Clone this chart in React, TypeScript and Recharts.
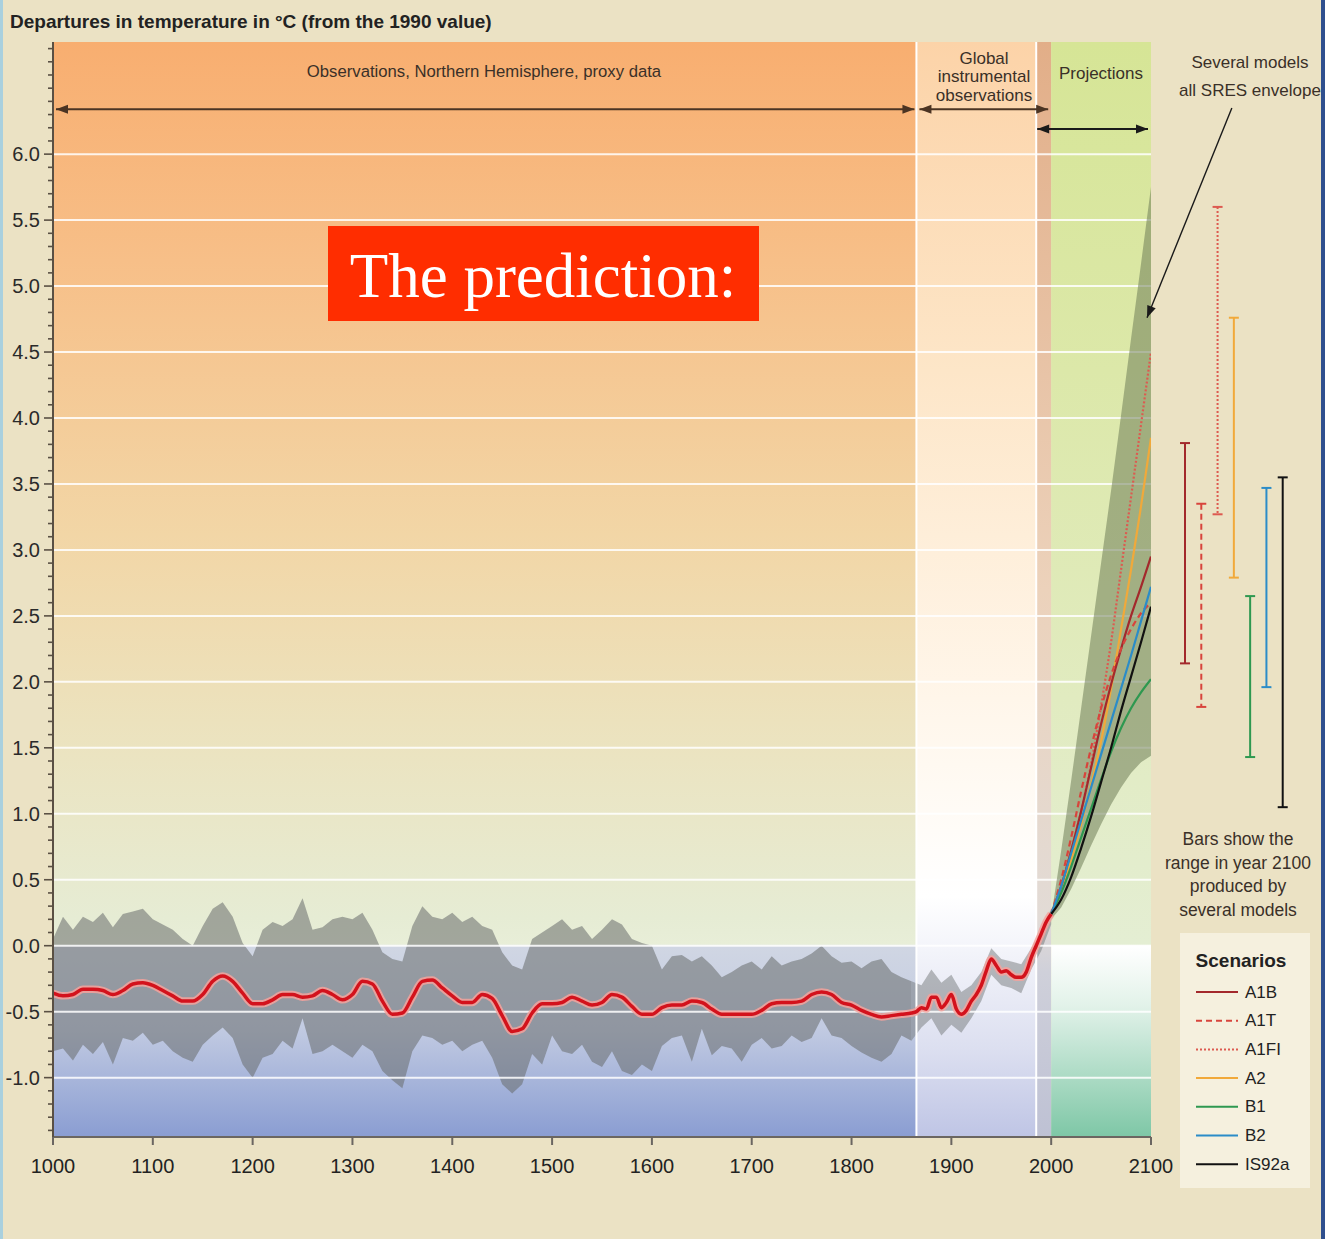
import React from 'react';
import {
  Area, Bar, BarChart, ComposedChart, Line,
  ReferenceArea, ReferenceLine, XAxis, YAxis,
} from 'recharts';

const FONT = '"Liberation Sans", Arial, Helvetica, sans-serif';

// proxy reconstruction (N. Hemisphere), 10-year steps
const proxyYears = [
  1000, 1010, 1020, 1030, 1040, 1050, 1060, 1070, 1080, 1090,
  1100, 1110, 1120, 1130, 1140, 1150, 1160, 1170, 1180, 1190,
  1200, 1210, 1220, 1230, 1240, 1250, 1260, 1270, 1280, 1290,
  1300, 1310, 1320, 1330, 1340, 1350, 1360, 1370, 1380, 1390,
  1400, 1410, 1420, 1430, 1440, 1450, 1460, 1470, 1480, 1490,
  1500, 1510, 1520, 1530, 1540, 1550, 1560, 1570, 1580, 1590,
  1600, 1610, 1620, 1630, 1640, 1650, 1660, 1670, 1680, 1690,
  1700, 1710, 1720, 1730, 1740, 1750, 1760, 1770, 1780, 1790,
  1800, 1810, 1820, 1830, 1840, 1850, 1860,
];
const proxyMean = [
  -0.36, -0.38, -0.37, -0.33, -0.33, -0.34, -0.37, -0.34, -0.29, -0.28,
  -0.30, -0.34, -0.38, -0.42, -0.42, -0.37, -0.27, -0.23, -0.27, -0.36,
  -0.44, -0.44, -0.41, -0.37, -0.37, -0.39, -0.38, -0.34, -0.37, -0.41,
  -0.37, -0.27, -0.29, -0.42, -0.52, -0.51, -0.39, -0.27, -0.26, -0.32,
  -0.38, -0.43, -0.43, -0.37, -0.40, -0.53, -0.65, -0.63, -0.51, -0.44,
  -0.44, -0.43, -0.39, -0.42, -0.45, -0.43, -0.37, -0.39, -0.46, -0.52,
  -0.52, -0.47, -0.45, -0.45, -0.42, -0.43, -0.48, -0.52, -0.52, -0.52,
  -0.52, -0.49, -0.44, -0.43, -0.43, -0.42, -0.37, -0.35, -0.37, -0.43,
  -0.45, -0.49, -0.52, -0.54, -0.53, -0.52, -0.51,
];
const proxyHigh = [
  0.05, 0.22, 0.12, 0.22, 0.18, 0.25, 0.14, 0.24, 0.26, 0.28,
  0.20, 0.16, 0.12, 0.05, 0.00, 0.15, 0.28, 0.33, 0.22, 0.02,
  -0.08, 0.12, 0.18, 0.15, 0.20, 0.36, 0.12, 0.14, 0.20, 0.22,
  0.20, 0.25, 0.12, -0.05, -0.10, -0.12, 0.15, 0.30, 0.22, 0.20,
  0.25, 0.18, 0.22, 0.15, 0.12, -0.05, -0.15, -0.18, 0.05, 0.10,
  0.15, 0.20, 0.12, 0.15, 0.05, 0.12, 0.20, 0.16, 0.05, 0.02,
  0.00, -0.18, -0.08, -0.07, -0.12, -0.08, -0.15, -0.24, -0.20, -0.15,
  -0.12, -0.18, -0.08, -0.15, -0.12, -0.10, -0.06, 0.00, -0.08, -0.13,
  -0.12, -0.17, -0.12, -0.10, -0.20, -0.24, -0.27,
];
const proxyLow = [
  -0.80, -0.78, -0.87, -0.75, -0.82, -0.73, -0.90, -0.70, -0.72, -0.66,
  -0.75, -0.72, -0.80, -0.85, -0.88, -0.75, -0.68, -0.62, -0.70, -0.90,
  -1.00, -0.85, -0.82, -0.72, -0.78, -0.55, -0.82, -0.80, -0.75, -0.80,
  -0.85, -0.75, -0.80, -0.95, -1.02, -1.08, -0.80, -0.68, -0.70, -0.75,
  -0.72, -0.80, -0.75, -0.72, -0.85, -1.05, -1.12, -1.05, -0.82, -0.90,
  -0.68, -0.80, -0.82, -0.75, -0.88, -0.92, -0.80, -0.95, -0.98, -0.90,
  -0.95, -0.76, -0.70, -0.68, -0.88, -0.63, -0.83, -0.76, -0.78, -0.88,
  -0.75, -0.70, -0.78, -0.76, -0.68, -0.73, -0.70, -0.55, -0.68, -0.70,
  -0.76, -0.81, -0.85, -0.88, -0.82, -0.68, -0.72,
];

// global instrumental record
const instYears = [
  1865, 1870, 1875, 1880, 1885, 1890, 1895, 1900, 1905, 1910, 1915, 1920, 1925, 1930,
  1935, 1940, 1945, 1950, 1955, 1960, 1965, 1970, 1975, 1980, 1985, 1990, 1995, 2000,
];
const instMean = [
  -0.50, -0.47, -0.48, -0.39, -0.39, -0.47, -0.43, -0.37, -0.48, -0.52, -0.49, -0.42, -0.37, -0.30,
  -0.19, -0.10, -0.15, -0.20, -0.19, -0.22, -0.24, -0.24, -0.20, -0.09, 0.00, 0.09, 0.18, 0.24,
];
const instBandYears = [1860, 1870, 1880, 1890, 1900, 1910, 1920, 1930, 1940, 1950, 1960, 1970, 1980, 1990, 2000];
const instHigh = [-0.27, -0.30, -0.18, -0.28, -0.22, -0.35, -0.30, -0.20, -0.02, -0.10, -0.12, -0.14, -0.02, 0.12, 0.28];
const instLow = [-0.72, -0.62, -0.55, -0.68, -0.60, -0.66, -0.55, -0.42, -0.22, -0.30, -0.32, -0.36, -0.18, -0.04, 0.16];

// projections
const projYears = [2000, 2010, 2020, 2030, 2040, 2050, 2060, 2070, 2080, 2090, 2100];
const envelopeHigh = [0.22, 0.72, 1.25, 1.80, 2.35, 2.90, 3.45, 4.02, 4.60, 5.17, 5.75];
const envelopeLow = [0.20, 0.29, 0.43, 0.59, 0.76, 0.92, 1.07, 1.20, 1.31, 1.39, 1.44];
const a1fi = [0.24, 0.45, 0.72, 1.02, 1.38, 1.82, 2.30, 2.85, 3.40, 3.95, 4.50];
const a2 = [0.24, 0.42, 0.65, 0.92, 1.22, 1.55, 1.95, 2.40, 2.85, 3.33, 3.85];
const a1b = [0.24, 0.45, 0.72, 1.02, 1.35, 1.68, 1.98, 2.25, 2.50, 2.72, 2.95];
const a1t = [0.24, 0.50, 0.82, 1.17, 1.50, 1.80, 2.05, 2.25, 2.40, 2.52, 2.60];
const b1 = [0.24, 0.40, 0.60, 0.82, 1.04, 1.26, 1.47, 1.65, 1.80, 1.92, 2.02];
const b2 = [0.24, 0.45, 0.70, 0.95, 1.20, 1.45, 1.70, 1.95, 2.20, 2.46, 2.72];
const is92a = [0.24, 0.35, 0.52, 0.74, 0.98, 1.24, 1.50, 1.78, 2.04, 2.30, 2.57];

// ranges in 2100 produced by several models
const scenarioNames = ['A1B', 'A1T', 'A1FI', 'A2', 'B1', 'B2', 'IS92a'];
const range2100Low = [2.14, 1.81, 3.27, 2.79, 1.43, 1.96, 1.05];
const range2100High = [3.81, 3.35, 5.60, 4.76, 2.65, 3.47, 3.55];

const xTicks = [1000, 1100, 1200, 1300, 1400, 1500, 1600, 1700, 1800, 1900, 2000, 2100];
const yLabels = [-1.0, -0.5, 0.0, 0.5, 1.0, 1.5, 2.0, 2.5, 3.0, 3.5, 4.0, 4.5, 5.0, 5.5, 6.0];
const yMinorTicks = Array.from({ length: 83 }, (_, i) => Math.round((-1.4 + i * 0.1) * 10) / 10);

const Y_DOMAIN: [number, number] = [-1.45, 6.85];

const scenarioStyle: Record<string, { color: string; dash?: string }> = {
  A1B: { color: '#a3292c' },
  A1T: { color: '#d8443c', dash: '6 4' },
  A1FI: { color: '#dd5a50', dash: '2 2' },
  A2: { color: '#f1a93a' },
  B1: { color: '#2e9850' },
  B2: { color: '#2b8cc8' },
  IS92a: { color: '#111111' },
};

const scenarioSeries: Record<string, number[]> = {
  A1FI: a1fi, A2: a2, A1B: a1b, A1T: a1t, B1: b1, B2: b2, IS92a: is92a,
};

const proxyBand = proxyYears.map((year, i) => ({ year, range: [proxyLow[i], proxyHigh[i]] }));
const instBand = instBandYears.map((year, i) => ({ year, range: [instLow[i], instHigh[i]] }));
const meanLine = [
  ...proxyYears.map((year, i) => ({ year, t: proxyMean[i] })),
  ...instYears.map((year, i) => ({ year, t: instMean[i] })),
];
const envelope = projYears.map((year, i) => ({ year, range: [envelopeLow[i], envelopeHigh[i]] }));
const rangeData = scenarioNames.map((name, i) => ({ name, range: [range2100Low[i], range2100High[i]] }));

function YTick(props: any) {
  const { x, y, payload } = props;
  const v = payload.value;
  const labelled = yLabels.some((l) => Math.abs(l - v) < 1e-6);
  return (
    <g>
      <line x1={x - (labelled ? 9 : 5)} x2={x} y1={y} y2={y} stroke="#5a5044" strokeWidth={1.6} />
      {labelled && (
        <text x={x - 13} y={y} textAnchor="end" dominantBaseline="central"
          fontSize={20} fontFamily={FONT} fill="#2a2a2a">
          {v.toFixed(1)}
        </text>
      )}
    </g>
  );
}

function arrowShape(color: string, both: boolean, width = 2) {
  return (p: any) => {
    const { x1, y1, x2, y2 } = p;
    const a = Math.atan2(y2 - y1, x2 - x1);
    const head = (x: number, y: number, ang: number) => {
      const bx = x - 12 * Math.cos(ang);
      const by = y - 12 * Math.sin(ang);
      const px = -Math.sin(ang) * 4.5;
      const py = Math.cos(ang) * 4.5;
      return <polygon points={`${x},${y} ${bx + px},${by + py} ${bx - px},${by - py}`} fill={color} />;
    };
    return (
      <g>
        <line x1={x1} y1={y1} x2={x2} y2={y2} stroke={color} strokeWidth={width} />
        {both && head(x1, y1, a + Math.PI)}
        {head(x2, y2, a)}
      </g>
    );
  };
}

function Whisker(props: any) {
  const { x, y, width, height, payload } = props;
  const s = scenarioStyle[payload.name];
  const cx = x + width / 2;
  const top = Math.min(y, y + height);
  const bottom = Math.max(y, y + height);
  return (
    <g stroke={s.color} strokeWidth={2}>
      <line x1={cx} x2={cx} y1={top} y2={bottom} strokeDasharray={s.dash} />
      <line x1={cx - 5} x2={cx + 5} y1={top} y2={top} />
      <line x1={cx - 5} x2={cx + 5} y1={bottom} y2={bottom} />
    </g>
  );
}

export default function App() {
  const text = { fontFamily: FONT, fill: '#3a3028' };
  return (
    <div style={{ position: 'absolute', left: 0, top: 0, width: 1325, height: 1239, background: '#ebe2c4', overflow: 'hidden' }}>
      <ComposedChart width={1325} height={1239} margin={{ top: 42, right: 174, bottom: 72, left: 8 }}>
        <defs>
          <linearGradient id="gProxy" x1="0" y1="0" x2="0" y2="1">
            <stop offset="0" stopColor="#f8ae70" />
            <stop offset="0.2" stopColor="#f7bf88" />
            <stop offset="0.45" stopColor="#f2d6a6" />
            <stop offset="0.62" stopColor="#ece2bd" />
            <stop offset="0.8" stopColor="#e6ecd4" />
            <stop offset="0.824" stopColor="#e8eed8" />
            <stop offset="0.826" stopColor="#d0d6e3" />
            <stop offset="0.9" stopColor="#c2cbe2" />
            <stop offset="1" stopColor="#8a9dd2" />
          </linearGradient>
          <linearGradient id="gInst" x1="0" y1="0" x2="0" y2="1">
            <stop offset="0" stopColor="#fcd3a8" />
            <stop offset="0.3" stopColor="#fde6c8" />
            <stop offset="0.6" stopColor="#fff6ea" />
            <stop offset="0.78" stopColor="#ffffff" />
            <stop offset="0.83" stopColor="#f3f4fa" />
            <stop offset="0.92" stopColor="#dcdff0" />
            <stop offset="1" stopColor="#bfc5e5" />
          </linearGradient>
          <linearGradient id="gGap" x1="0" y1="0" x2="0" y2="1">
            <stop offset="0" stopColor="#e2ae88" />
            <stop offset="0.5" stopColor="#ecd2bb" />
            <stop offset="0.8" stopColor="#e2dbd6" />
            <stop offset="0.85" stopColor="#cfd0da" />
            <stop offset="1" stopColor="#bec1d4" />
          </linearGradient>
          <linearGradient id="gProj" x1="0" y1="0" x2="0" y2="1">
            <stop offset="0" stopColor="#d6e596" />
            <stop offset="0.3" stopColor="#dce8a9" />
            <stop offset="0.6" stopColor="#e1ebc0" />
            <stop offset="0.824" stopColor="#e4eed3" />
            <stop offset="0.826" stopColor="#ffffff" />
            <stop offset="0.88" stopColor="#e2f2e9" />
            <stop offset="1" stopColor="#7ec7a6" />
          </linearGradient>
        </defs>

        <XAxis
          type="number"
          dataKey="year"
          domain={[1000, 2100]}
          allowDataOverflow
          ticks={xTicks}
          interval={0}
          height={30}
          tickSize={8}
          tickMargin={14}
          axisLine={{ stroke: '#6b6661', strokeWidth: 2 }}
          tickLine={{ stroke: '#6b6661', strokeWidth: 2 }}
          tick={{ fill: '#222', fontSize: 20, fontFamily: FONT }}
        />
        <YAxis
          type="number"
          domain={Y_DOMAIN}
          allowDataOverflow
          ticks={yMinorTicks}
          interval={0}
          width={45}
          tickSize={0}
          tickMargin={0}
          tickLine={false}
          axisLine={{ stroke: '#5a5044', strokeWidth: 2 }}
          tick={(p: any) => <YTick {...p} />}
        />

        <ReferenceArea x1={1000} x2={1865} y1={Y_DOMAIN[0]} y2={Y_DOMAIN[1]} fill="url(#gProxy)" fillOpacity={1} stroke="none" zIndex={10} />
        <ReferenceArea x1={1865} x2={1985} y1={Y_DOMAIN[0]} y2={Y_DOMAIN[1]} fill="url(#gInst)" fillOpacity={1} stroke="none" zIndex={10} />
        <ReferenceArea x1={1985} x2={2000} y1={Y_DOMAIN[0]} y2={Y_DOMAIN[1]} fill="url(#gGap)" fillOpacity={1} stroke="none" zIndex={10} />
        <ReferenceArea x1={2000} x2={2100} y1={Y_DOMAIN[0]} y2={Y_DOMAIN[1]} fill="url(#gProj)" fillOpacity={1} stroke="none" zIndex={10} />

        <Area data={proxyBand} dataKey="range" type="linear" stroke="none" fill="#686c6c" fillOpacity={0.55}
          isAnimationActive={false} dot={false} activeDot={false} zIndex={20} />
        <Area data={instBand} dataKey="range" type="linear" stroke="none" fill="#686c6c" fillOpacity={0.45}
          isAnimationActive={false} dot={false} activeDot={false} zIndex={20} />

        {yLabels.map((v) => (
          <ReferenceLine key={v} y={v} stroke="#ffffff" strokeOpacity={0.85} strokeWidth={2} zIndex={30} />
        ))}
        <ReferenceLine x={1865} stroke="#ffffff" strokeWidth={2} zIndex={35} />
        <ReferenceLine x={1985} stroke="#ffffff" strokeWidth={2} zIndex={35} />

        <Area data={envelope} dataKey="range" type="linear" stroke="none" fill="#6f7d58" fillOpacity={0.55}
          isAnimationActive={false} dot={false} activeDot={false} zIndex={40} />

        {Object.keys(scenarioSeries).map((name) => (
          <Line
            key={name}
            data={projYears.map((year, i) => ({ year, t: scenarioSeries[name][i] }))}
            dataKey="t"
            type="monotone"
            stroke={scenarioStyle[name].color}
            strokeDasharray={scenarioStyle[name].dash}
            strokeWidth={2.2}
            dot={false}
            activeDot={false}
            isAnimationActive={false}
            zIndex={400}
          />
        ))}

        <Line data={meanLine} dataKey="t" type="monotone" stroke="#f4a29c" strokeOpacity={0.85} strokeWidth={7.5}
          dot={false} activeDot={false} isAnimationActive={false} zIndex={440} />
        <Line data={meanLine} dataKey="t" type="monotone" stroke="#d3121c" strokeWidth={3.5}
          dot={false} activeDot={false} isAnimationActive={false} zIndex={450} />

        <ReferenceLine segment={[{ x: 1003, y: 6.34 }, { x: 1863, y: 6.34 }]} shape={arrowShape('#4b3423', true)} zIndex={500} />
        <ReferenceLine segment={[{ x: 1868, y: 6.34 }, { x: 1997, y: 6.34 }]} shape={arrowShape('#4b3423', true)} zIndex={500} />
        <ReferenceLine segment={[{ x: 1986, y: 6.19 }, { x: 2097, y: 6.19 }]} shape={arrowShape('#1a1a1a', true)} zIndex={500} />
        <ReferenceLine segment={[{ x: 2181, y: 6.35 }, { x: 2096, y: 4.76 }]} ifOverflow="visible"
          shape={arrowShape('#1a1a1a', false, 1.4)} zIndex={500} />
      </ComposedChart>

      <div style={{ position: 'absolute', left: 1177, top: 0 }}>
        <BarChart width={114} height={1239} data={rangeData} margin={{ top: 42, bottom: 102, left: 0, right: 0 }}
          barCategoryGap={0}>
          <XAxis dataKey="name" type="category" hide />
          <YAxis type="number" domain={Y_DOMAIN} allowDataOverflow hide />
          <Bar dataKey="range" shape={(p: any) => <Whisker {...p} />} isAnimationActive={false} />
        </BarChart>
      </div>

      <svg width={1325} height={1239} style={{ position: 'absolute', left: 0, top: 0, pointerEvents: 'none' }}>
        <rect x={0} y={0} width={3} height={1239} fill="#a9d0de" />
        <rect x={1321} y={0} width={4} height={1239} fill="#2f4f8e" />

        <text x={10} y={21} dominantBaseline="central" fontSize={19} fontWeight={700} {...text} fill="#222">
          Departures in temperature in °C (from the 1990 value)
        </text>
        <text x={484} y={71} textAnchor="middle" dominantBaseline="central" fontSize={16.7} {...text}>
          Observations, Northern Hemisphere, proxy data
        </text>
        {['Global', 'instrumental', 'observations'].map((s, i) => (
          <text key={s} x={984} y={58 + i * 18.5} textAnchor="middle" dominantBaseline="central" fontSize={17} {...text}>{s}</text>
        ))}
        <text x={1101} y={73} textAnchor="middle" dominantBaseline="central" fontSize={17} {...text}>Projections</text>
        <text x={1250} y={62} textAnchor="middle" dominantBaseline="central" fontSize={17} {...text}>Several models</text>
        <text x={1250} y={90} textAnchor="middle" dominantBaseline="central" fontSize={17} {...text}>all SRES envelope</text>
        {['Bars show the', 'range in year 2100', 'produced by', 'several models'].map((s, i) => (
          <text key={s} x={1238} y={839 + i * 23.7} textAnchor="middle" dominantBaseline="central" fontSize={17.5} {...text}>{s}</text>
        ))}

        <rect x={1180} y={933} width={130} height={255} fill="#f5f0de" />
        <text x={1241} y={960} textAnchor="middle" dominantBaseline="central" fontSize={19} fontWeight={700} {...text} fill="#222">
          Scenarios
        </text>
        {scenarioNames.map((name, i) => (
          <g key={name}>
            <line x1={1196} x2={1238} y1={992 + i * 28.7} y2={992 + i * 28.7}
              stroke={scenarioStyle[name].color} strokeWidth={2} strokeDasharray={scenarioStyle[name].dash} />
            <text x={1245} y={992 + i * 28.7} dominantBaseline="central" fontSize={17} {...text} fill="#222">{name}</text>
          </g>
        ))}

        <rect x={328} y={226} width={431} height={95} fill="#ff2d00" />
        <text x={543} y={276} textAnchor="middle" dominantBaseline="central" fontSize={63}
          fontFamily='"Liberation Serif", "Times New Roman", serif' fill="#ffffff">
          The prediction:
        </text>
      </svg>
    </div>
  );
}
